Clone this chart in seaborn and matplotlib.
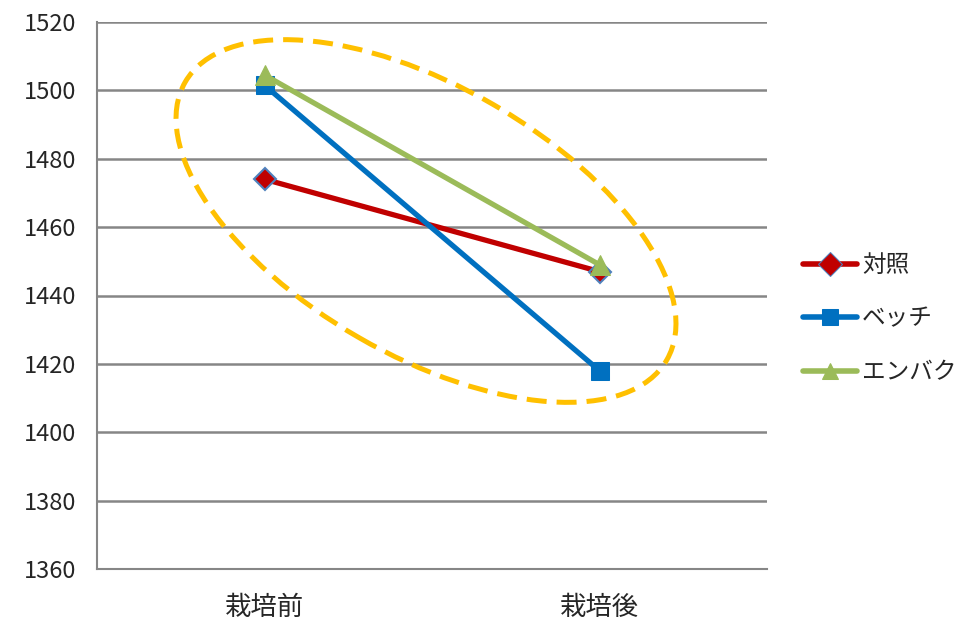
import matplotlib
matplotlib.use("Agg")
import matplotlib.pyplot as plt
import seaborn as sns
import pandas as pd
from matplotlib.patches import Ellipse

categories = ["栽培前", "栽培後"]
series_names = ["対照", "ベッチ", "エンバク"]
taisho = [1474, 1447]
vetch = [1501.5, 1418]
enbaku = [1504.5, 1449]
y_ticks = [1360, 1380, 1400, 1420, 1440, 1460, 1480, 1500, 1520]

rows = []
for name, vals in zip(series_names, [taisho, vetch, enbaku]):
    for c, v in zip(categories, vals):
        rows.append({"時期": c, "値": v, "系列": name})
df = pd.DataFrame(rows)

sns.set_theme(style="white")
plt.rcParams["font.family"] = ["Noto Sans CJK JP", "DejaVu Sans"]

fig = plt.figure(figsize=(9.57, 6.24), dpi=100)
ax = fig.add_axes([97/957, 1 - 569/624, (767-97)/957, (569-22)/624])

palette = {"対照": "#C00000", "ベッチ": "#0070C0", "エンバク": "#9BBB59"}
markers = {"対照": "D", "ベッチ": "s", "エンバク": "^"}
sns.lineplot(data=df, x="時期", y="値", hue="系列", style="系列",
             palette=palette, markers=markers, dashes=False, sort=False,
             linewidth=3.8, markersize=12, ax=ax, legend=True)

for line, name in zip(ax.lines[:3], series_names):
    if name == "対照":
        line.set_markeredgecolor("#4F81BD")
        line.set_markeredgewidth(1.5)
        line.set_markersize(11)
    elif name == "ベッチ":
        line.set_markeredgecolor("#0070C0")
        line.set_markersize(13)
    else:
        line.set_markeredgecolor("#9BBB59")
        line.set_markersize(14)

ax.set_xlim(-0.5, 1.5)
ax.set_ylim(1360, 1520)
ax.set_yticks(y_ticks)
ax.set_yticklabels([str(t) for t in y_ticks], fontsize=17)
ax.set_xticks([-0.5, 0.5, 1.5])
ax.set_xticklabels([])
ax.set_xticks([0, 1], minor=True)
ax.set_xticklabels(categories, minor=True, fontsize=19)
ax.tick_params(axis="x", which="minor", length=0, pad=18)
ax.tick_params(axis="x", which="major", length=7, width=1.5, color="#868686", direction="out")
ax.tick_params(axis="y", length=7, width=1.5, color="#868686", direction="out", pad=8)
ax.set_xlabel("")
ax.set_ylabel("")
ax.grid(axis="y", color="#868686", linewidth=1.8)
ax.set_axisbelow(True)
for s in ["top", "right"]:
    ax.spines[s].set_visible(False)
for s in ["left", "bottom"]:
    ax.spines[s].set_color("#868686")
    ax.spines[s].set_linewidth(1.5)

h, l = ax.get_legend_handles_labels()
for hh in h:
    hh.set_linewidth(4)
leg = ax.legend(h, l, loc="center left", bbox_to_anchor=(803/957, 1 - 319/624),
                bbox_transform=fig.transFigure, frameon=False, fontsize=17,
                handlelength=2.3, labelspacing=1.3, handletextpad=0.2,
                borderpad=0, borderaxespad=0)
for hh, name in zip(leg.legend_handles, series_names):
    hh.set_markeredgecolor("#4F81BD" if name == "対照" else palette[name])

ell = Ellipse((4.26, (624 - 221) / 100), 5.56, 2.69, angle=-30,
              transform=fig.dpi_scale_trans, fill=False, edgecolor="#FFC000",
              linewidth=3.6, linestyle=(0, (4, 2)), zorder=10)
fig.patches.append(ell)

fig.savefig("out.png", dpi=100)
